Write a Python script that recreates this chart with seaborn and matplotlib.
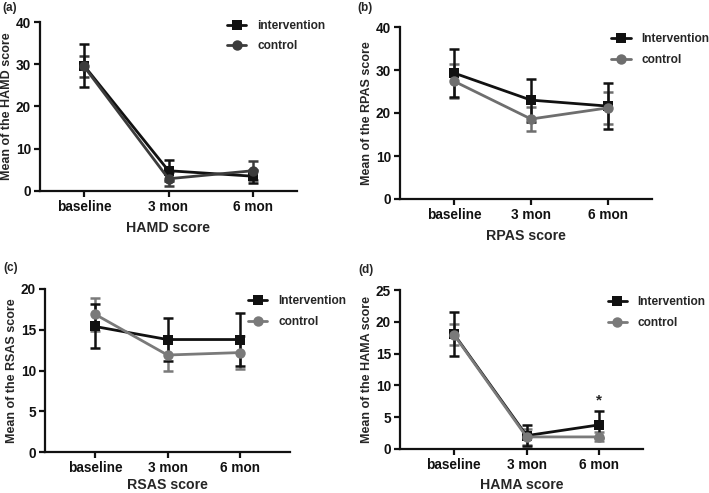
import numpy as np
import pandas as pd
import matplotlib
matplotlib.use("Agg")
import matplotlib.pyplot as plt
import seaborn as sns

sns.set_theme(style="ticks")
plt.rcParams['font.family'] = ['Liberation Sans', 'DejaVu Sans']
plt.rcParams['font.weight'] = 'bold'

timepoints = ["baseline", "3 mon", "6 mon"]

# (a) HAMD
hamd_int_mean = [29.7, 4.8, 3.5]
hamd_int_sd = [5.0, 2.5, 1.5]
hamd_ctl_mean = [29.5, 2.9, 4.8]
hamd_ctl_sd = [2.5, 1.6, 2.2]

# (b) RPAS
rpas_int_mean = [29.3, 23.0, 21.6]
rpas_int_sd = [5.5, 5.0, 5.4]
rpas_ctl_mean = [27.4, 18.6, 21.2]
rpas_ctl_sd = [4.0, 2.9, 3.8]

# (c) RSAS
rsas_int_mean = [15.4, 13.8, 13.8]
rsas_int_sd = [2.7, 2.6, 3.3]
rsas_ctl_mean = [16.9, 11.9, 12.2]
rsas_ctl_sd = [2.0, 2.0, 2.0]

# (d) HAMA
hama_int_mean = [18.1, 2.1, 3.8]
hama_int_sd = [3.5, 1.6, 2.1]
hama_ctl_mean = [18.0, 1.9, 1.9]
hama_ctl_sd = [1.7, 1.3, 0.7]

panels = [
    dict(tag="(a)", name="HAMD", im=hamd_int_mean, isd=hamd_int_sd, cm=hamd_ctl_mean, csd=hamd_ctl_sd,
         ylim=40, step=10, labels=["intervention", "control"], ccol="#3c3c3c",
         pos=[40, 297, 22, 191], xl=(-0.52, 2.52), leg=(0.71, 1.04), tagxy=(2, 8), xpad=5),
    dict(tag="(b)", name="RPAS", im=rpas_int_mean, isd=rpas_int_sd, cm=rpas_ctl_mean, csd=rpas_ctl_sd,
         ylim=40, step=10, labels=["Intervention", "control"], ccol="#6e6e6e",
         pos=[400, 652, 27, 199], xl=(-0.70, 2.57), leg=(0.82, 0.99), tagxy=(357, 8), xpad=5),
    dict(tag="(c)", name="RSAS", im=rsas_int_mean, isd=rsas_int_sd, cm=rsas_ctl_mean, csd=rsas_ctl_sd,
         ylim=20, step=5, labels=["Intervention", "control"], ccol="#7a7a7a",
         pos=[45, 290, 289, 452], xl=(-0.69, 2.69), leg=(0.81, 0.99), tagxy=(3, 268), xpad=2),
    dict(tag="(d)", name="HAMA", im=hama_int_mean, isd=hama_int_sd, cm=hama_ctl_mean, csd=hama_ctl_sd,
         ylim=25, step=5, labels=["Intervention", "control"], ccol="#7a7a7a",
         pos=[400, 643, 290, 449], xl=(-0.74, 2.6), leg=(0.835, 0.99), tagxy=(358, 270), xpad=4),
]

W, H = 709, 493
fig = plt.figure(figsize=(W / 100, H / 100), dpi=100)

for p in panels:
    l, r, t, b = p["pos"]
    ax = fig.add_axes([l / W, 1 - b / H, (r - l) / W, (b - t) / H])
    df = pd.DataFrame({
        "x": list(range(3)) * 2,
        "mean": p["im"] + p["cm"],
        "group": [p["labels"][0]] * 3 + [p["labels"][1]] * 3,
    })
    pal = {p["labels"][0]: "#111111", p["labels"][1]: p["ccol"]}
    for grp, sd, z in [(p["labels"][1], p["csd"], 2), (p["labels"][0], p["isd"], 3)]:
        sub = df[df["group"] == grp]
        ax.errorbar(sub["x"], sub["mean"], yerr=sd, fmt="none", ecolor=pal[grp],
                    elinewidth=1.8, capsize=3.5, capthick=1.8, zorder=z)
    sns.lineplot(data=df, x="x", y="mean", hue="group", style="group",
                 markers={p["labels"][0]: "s", p["labels"][1]: "o"}, dashes=False,
                 palette=pal, hue_order=[p["labels"][0], p["labels"][1]],
                 linewidth=2, markersize=7.5, markeredgewidth=0, ax=ax, legend=True, zorder=4)
    ax.set_xlim(*p["xl"])
    ax.set_ylim(0, p["ylim"])
    ax.set_yticks(np.arange(0, p["ylim"] + 0.1, p["step"]))
    ax.set_xticks(range(3))
    ax.set_xticklabels(timepoints)
    for s in ["top", "right"]:
        ax.spines[s].set_visible(False)
    for s in ["left", "bottom"]:
        ax.spines[s].set_linewidth(1.6)
        ax.spines[s].set_color("#111111")
    ax.tick_params(axis="both", width=1.6, length=4, labelsize=9.8, colors="#111111", pad=2.5)
    for lab in ax.get_xticklabels() + ax.get_yticklabels():
        lab.set_fontweight("bold")
    ax.set_xlabel(p["name"] + " score", fontsize=10.2, fontweight="bold", labelpad=p["xpad"])
    ax.set_ylabel("Mean of the " + p["name"] + " score", fontsize=9.0, fontweight="bold", labelpad=2)
    ax.grid(False)
    leg = ax.legend(loc="upper left", bbox_to_anchor=p["leg"], frameon=False, fontsize=8.6,
                    handlelength=1.6, handletextpad=0.9, labelspacing=0.7, borderaxespad=0)
    for txt in leg.get_texts():
        txt.set_fontweight("bold")
    fig.text(p["tagxy"][0] / W, 1 - p["tagxy"][1] / H, p["tag"], fontsize=8.5,
             fontweight="bold", ha="left", va="center")
    if p["tag"] == "(d)":
        ax.text(2, 6.6, "*", ha="center", va="bottom", fontsize=11, fontweight="bold")

fig.savefig("out.png", dpi=100, facecolor="white")
